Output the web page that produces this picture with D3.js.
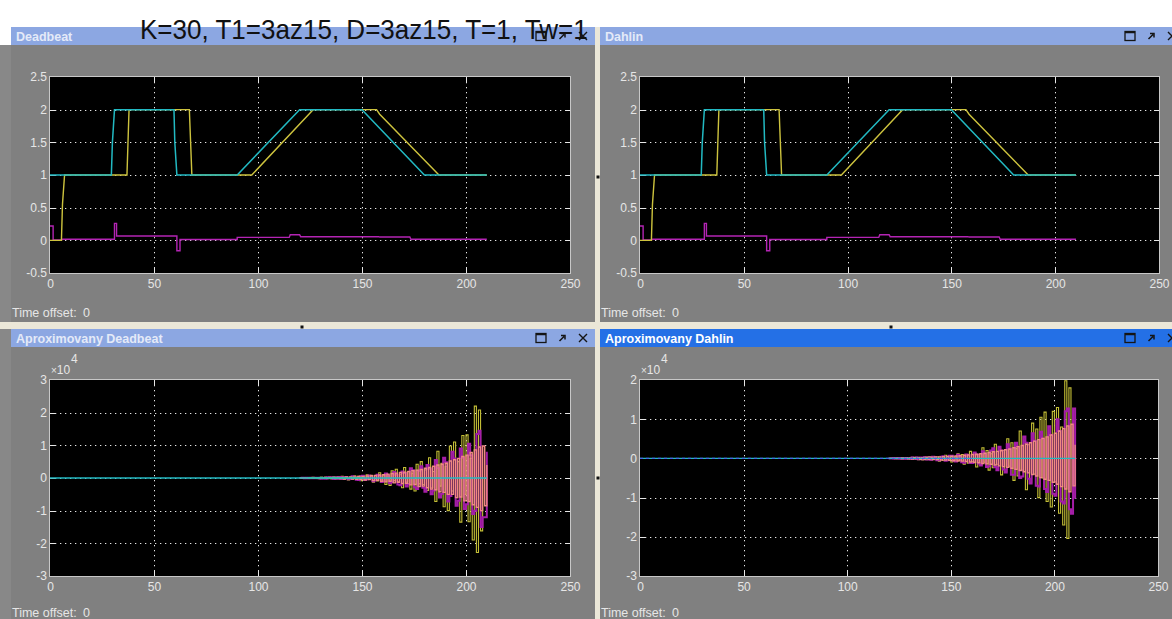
<!DOCTYPE html>
<html><head><meta charset="utf-8">
<script src="https://cdn.jsdelivr.net/npm/d3@7"></script>
<style>html,body{margin:0;padding:0;background:#fff;overflow:hidden}</style>
</head><body><svg id="c" width="1172" height="619"></svg>
<script>
// ---------- labels ----------
const headline = "K=30, T1=3az15, D=3az15, T=1, Tw=1";
const panelTitles = ["Deadbeat", "Dahlin", "Aproximovany Deadbeat", "Aproximovany Dahlin"];
const xTicks = [0, 50, 100, 150, 200, 250];
const xDomain = [0, 250];
const yTicksTop = [-0.5, 0, 0.5, 1, 1.5, 2, 2.5];
const yTickLabelsTop = ["-0.5", "0", "0.5", "1", "1.5", "2", "2.5"];
const yTicksApproxDb = [-3, -2, -1, 0, 1, 2, 3];
const yTicksApproxDh = [-3, -2, -1, 0, 1, 2];
const exponent = "4";
const timeOffsetLabel = "Time offset:";
const timeOffsetValue = "0";

// ---------- closed loop traces: [time, value] ----------
const deadbeatRef = [[0,1],[29.5,1],[30,1.5],[31,2],[59.6,2],[60,1.5],[61,1],[90,1],[120,2],[150,2],[180,1],[210,1]];
const deadbeatOut = [[0,0],[5.5,0],[6,0.55],[7,1],[37,1],[37.5,1.5],[38,2],[67,2],[67.6,1.5],[68.2,1],[97,1],[126.5,2],[157,2],[158.5,1.93],[187,1],[210,1]];
const deadbeatCtl = [[0,0.22],[1.5,0.22],[1.5,0.005],[5.5,0.005],[6,0.016],[31,0.016],[31,0.26],[32,0.26],[32,0.066],[61,0.066],[61,-0.16],[62.5,-0.16],[62.5,0.012],[90,0.012],[90,0.045],[115,0.045],[115.5,0.085],[120,0.085],[120.5,0.056],[158,0.056],[158.5,0.05],[173,0.05],[173.5,0.017],[210,0.017]];
// the Dahlin loop follows the same reference and settles identically in this run
const dahlinRef = [[0,1],[29.5,1],[30,1.5],[31,2],[59.6,2],[60,1.5],[61,1],[90,1],[120,2],[150,2],[180,1],[210,1]];
const dahlinOut = [[0,0],[5.5,0],[6,0.55],[7,1],[37,1],[37.5,1.5],[38,2],[67,2],[67.6,1.5],[68.2,1],[97,1],[126.5,2],[157,2],[158.5,1.93],[187,1],[210,1]];
const dahlinCtl = [[0,0.22],[1.5,0.22],[1.5,0.005],[5.5,0.005],[6,0.016],[31,0.016],[31,0.26],[32,0.26],[32,0.066],[61,0.066],[61,-0.16],[62.5,-0.16],[62.5,0.012],[90,0.012],[90,0.045],[115,0.045],[115.5,0.085],[120,0.085],[120.5,0.056],[158,0.056],[158.5,0.05],[173,0.05],[173.5,0.017],[210,0.017]];

// ---------- approximated controllers: one sample per step (x 10^4) ----------
const approxStart = 120;
const zeroLine = [[0,0],[210,0]];

const apDbYellow = [
  0,0.01,-0.01,0.01,0,-0.01,0.02,-0.01,0.01,-0.02,
  0.02,-0.01,0.03,-0.02,0.02,-0.03,0.03,-0.02,0.04,-0.03,
  0.05,-0.04,0.03,-0.06,0.02,-0.04,0.07,-0.02,0.05,-0.08,
  0.04,-0.06,0.1,-0.03,0.08,-0.13,0.06,-0.09,0.16,-0.05,
  0.1,-0.2,0.06,-0.23,0.22,-0.08,0.27,-0.12,0.1,-0.3,
  0.32,-0.12,0.2,-0.34,0.15,-0.4,0.42,-0.18,0.5,-0.2,
  0.25,-0.38,0.62,-0.3,0.2,-0.72,0.82,-0.25,0.45,-0.88,
  0.35,-1.0,0.98,-0.4,1.1,-0.6,0.5,-1.35,1.3,-0.5,
  1.32,-1.34,0.6,-1.9,2.2,-2.28,2.08,-1.62,0];
const apDbMagenta = [
  0,0.005,-0.005,0.01,-0.01,0.005,-0.01,0.01,-0.005,0.01,
  -0.02,0.01,-0.02,0.02,-0.01,0.02,-0.03,0.02,-0.02,0.03,
  -0.03,0.02,0.03,-0.04,-0.03,0.05,0.03,-0.05,-0.06,0.05,
  0.07,-0.06,-0.04,0.08,0.06,-0.1,-0.07,0.1,0.05,-0.12,
  -0.1,0.14,0.08,-0.16,-0.12,0.18,0.1,-0.2,-0.22,0.2,
  0.15,-0.26,-0.18,0.3,0.24,-0.28,-0.34,0.22,0.36,-0.3,
  -0.42,0.4,0.28,-0.5,-0.38,0.55,0.3,-0.6,-0.48,0.62,
  0.48,-0.72,-0.55,0.8,0.6,-0.85,-0.7,0.9,0.62,-0.95,
  -0.8,1.05,0.7,-1.1,-1.0,1.35,1.45,-1.5,-1.2,-1.2,0.8];
const apDbSalmon = [
  0,0,0.005,-0.005,0,0.005,-0.005,0.005,0,-0.005,
  0.01,-0.01,0.01,-0.01,0.015,-0.01,0.015,-0.015,0.02,-0.02,
  0.02,-0.03,0.03,-0.02,0.035,-0.035,0.03,-0.04,0.045,-0.04,
  0.05,-0.06,0.06,-0.05,0.07,-0.08,0.08,-0.07,0.09,-0.1,
  0.1,-0.12,0.12,-0.1,0.14,-0.15,0.15,-0.13,0.17,-0.17,
  0.18,-0.16,0.2,-0.21,0.22,-0.2,0.24,-0.26,0.26,-0.25,
  0.3,-0.3,0.32,-0.34,0.36,-0.36,0.4,-0.42,0.42,-0.44,
  0.45,-0.5,0.52,-0.5,0.56,-0.6,0.6,-0.58,0.66,-0.7,
  0.7,-0.72,0.78,-0.82,0.86,-0.9,0.95,-1.0,0.98,-0.85,0.4];
const apDbGreenStart = 124;
const apDbGreen = [0.01,-0.005,0.015,0,-0.01,0.01,0.02,-0.01,0,0.01,-0.015,0.01,0.02,-0.01,0.005,0.01,-0.01,0.015,0,-0.01,0.01,0.02,-0.015,0.01,0,0.01,-0.01];

const apDhYellow = [
  0,0.01,-0.01,0.02,-0.01,0.01,-0.02,0.02,-0.01,0.02,
  -0.02,0.03,-0.02,0.03,-0.03,0.02,-0.04,0.04,-0.03,0.05,
  -0.04,0.05,-0.02,0.04,-0.07,0.03,-0.05,0.08,-0.03,0.06,
  -0.09,0.04,-0.08,0.12,-0.05,0.1,-0.15,0.06,-0.12,0.18,
  -0.08,0.14,-0.22,0.1,-0.16,0.27,-0.1,0.2,-0.3,0.12,
  -0.24,0.36,-0.15,0.28,-0.42,0.2,-0.34,0.5,-0.2,0.4,
  -0.56,0.25,-0.45,0.7,-0.3,0.55,-0.8,0.35,-0.62,0.9,
  -0.4,0.75,-1.0,1.05,-0.5,1.18,-1.1,0.6,-1.24,1.2,
  -0.6,1.3,-1.4,0.8,-1.7,1.98,-2.04,1.8,0];
const apDhMagenta = [
  0,0.005,-0.005,0.01,-0.005,0.01,-0.01,0.005,-0.01,0.01,
  -0.01,0.02,-0.015,0.02,-0.02,0.025,-0.02,0.03,-0.03,0.025,
  -0.035,0.04,0.03,-0.045,-0.05,0.04,0.055,-0.06,-0.05,0.07,
  0.07,-0.06,-0.08,0.09,0.05,-0.1,-0.11,0.1,0.08,-0.12,
  -0.12,0.15,0.1,-0.13,-0.18,0.18,0.12,-0.22,-0.2,0.2,
  0.26,-0.22,-0.3,0.3,0.2,-0.28,-0.36,0.36,0.25,-0.42,
  -0.42,0.4,0.3,-0.5,-0.46,0.56,0.4,-0.52,-0.64,0.64,
  0.45,-0.7,-0.72,0.68,0.5,-0.78,-0.86,0.82,0.6,-0.9,
  -0.95,1.0,0.7,-1.1,-1.15,1.2,1.27,-1.3,-1.41,1.27,-1.03];
const apDhSalmon = [
  0,0,0.005,-0.005,0.005,-0.005,0.01,-0.005,0.01,-0.01,
  0.01,-0.015,0.015,-0.01,0.02,-0.02,0.02,-0.025,0.025,-0.02,
  0.03,-0.03,0.035,-0.03,0.04,-0.04,0.045,-0.045,0.05,-0.05,
  0.055,-0.06,0.06,-0.065,0.07,-0.07,0.08,-0.08,0.09,-0.09,
  0.1,-0.1,0.11,-0.11,0.12,-0.13,0.13,-0.14,0.15,-0.15,
  0.17,-0.17,0.18,-0.19,0.2,-0.21,0.22,-0.23,0.24,-0.25,
  0.27,-0.28,0.3,-0.31,0.33,-0.34,0.36,-0.37,0.4,-0.41,
  0.44,-0.45,0.48,-0.49,0.51,-0.53,0.55,-0.56,0.6,-0.61,
  0.64,-0.66,0.7,-0.72,0.76,-0.78,0.83,-0.85,0.87,-0.7,0.35];
const apDhBlueZero = [[0,0],[160,0]];

// ---------- colours ----------
const C = {
  cyan: "#22b9c2", yellow: "#cdc33e", purple: "#b424b4",
  oscYellow: "#c4bf36", oscMagenta: "#a51ea8", salmon: "#f08a82",
  green: "#5ccf5c", blue: "#4a62e8",
  panel: "#808080", bar: "#8ca7e2", barActive: "#2470e6",
  splitter: "#ebe7d8", label: "#e6e6e6"
};

const svg = d3.select("#c");
const FONT = "'Liberation Sans', Arial, sans-serif";

svg.append("rect").attr("width", 1172).attr("height", 619).attr("fill", "#fff");
svg.append("rect").attr("x", 0).attr("y", 45).attr("width", 11).attr("height", 574).attr("fill", "#888");

const sampled = (vals, t0) => vals.map((v, i) => [t0 + i, v]);

function drawScope(p) {
  const g = svg.append("g");
  // window body + caption bar
  g.append("rect").attr("x", p.left).attr("y", p.top).attr("width", p.right - p.left)
    .attr("height", p.bottom - p.top).attr("fill", C.panel);
  g.append("rect").attr("x", p.left).attr("y", p.top).attr("width", p.right - p.left)
    .attr("height", 18).attr("fill", p.active ? C.barActive : C.bar);
  g.append("text").attr("x", p.left + 5).attr("y", p.top + 13.5).text(p.title)
    .attr("font-family", FONT).attr("font-weight", "bold").attr("font-size", 12.5)
    .attr("fill", p.active ? "#ffffff" : "#e4eaf8");

  // caption buttons
  const cy = p.top + 9, ic = "#151515";
  const sq = p.iconRight - 54, ar = p.iconRight - 33, cx = p.iconRight - 12;
  g.append("rect").attr("x", sq - 5).attr("y", cy - 4.5).attr("width", 10).attr("height", 9)
    .attr("fill", "none").attr("stroke", ic).attr("stroke-width", 1.3);
  g.append("line").attr("x1", sq - 5).attr("x2", sq + 5).attr("y1", cy - 3.5).attr("y2", cy - 3.5)
    .attr("stroke", ic).attr("stroke-width", 1.5);
  g.append("path").attr("d", `M${ar - 2.5},${cy + 3} L${ar + 2},${cy - 1.5} M${ar - 1},${cy - 2.5} L${ar + 3},${cy - 2.5} L${ar + 3},${cy + 1.5}`)
    .attr("fill", "none").attr("stroke", ic).attr("stroke-width", 1.5);
  g.append("path").attr("d", `M${cx - 4},${cy - 4} L${cx + 4},${cy + 4} M${cx + 4},${cy - 4} L${cx - 4},${cy + 4}`)
    .attr("stroke", ic).attr("stroke-width", 1.4);

  // axes
  const a = p.axes;
  const x = d3.scaleLinear().domain(xDomain).range([a.x0, a.x1]);
  const y = d3.scaleLinear().domain(p.yDomain).range([a.y1, a.y0]);
  g.append("rect").attr("x", a.x0).attr("y", a.y0).attr("width", a.x1 - a.x0)
    .attr("height", a.y1 - a.y0).attr("fill", "#000");

  const grid = g.append("g").attr("stroke", "#e6e6e6").attr("stroke-width", 1);
  xTicks.filter(t => t > xDomain[0] && t < xDomain[1]).forEach(t => {
    const px = Math.round(x(t)) + 0.5;
    grid.append("line").attr("x1", px).attr("x2", px).attr("y1", a.y0).attr("y2", a.y1)
      .attr("stroke-dasharray", "1.3,3.7");
    grid.append("line").attr("x1", px).attr("x2", px).attr("y1", a.y0).attr("y2", a.y0 + 5);
    grid.append("line").attr("x1", px).attr("x2", px).attr("y1", a.y1 - 5).attr("y2", a.y1);
  });
  p.yTicks.filter(t => t > p.yDomain[0] && t < p.yDomain[1]).forEach(t => {
    const py = Math.round(y(t)) + 0.5;
    grid.append("line").attr("x1", a.x0).attr("x2", a.x1).attr("y1", py).attr("y2", py)
      .attr("stroke-dasharray", "1.3,3.7");
    grid.append("line").attr("x1", a.x0).attr("x2", a.x0 + 5).attr("y1", py).attr("y2", py);
    grid.append("line").attr("x1", a.x1 - 5).attr("x2", a.x1).attr("y1", py).attr("y2", py);
  });
  g.append("rect").attr("x", a.x0 - 0.5).attr("y", a.y0 - 0.5).attr("width", a.x1 - a.x0 + 1)
    .attr("height", a.y1 - a.y0 + 1).attr("fill", "none").attr("stroke", "#c8c8c8");

  // traces
  const clipId = "clip" + p.id;
  svg.append("clipPath").attr("id", clipId).append("rect")
    .attr("x", a.x0).attr("y", a.y0).attr("width", a.x1 - a.x0).attr("height", a.y1 - a.y0);
  const tg = g.append("g").attr("clip-path", `url(#${clipId})`);
  p.series.forEach(s => {
    const line = d3.line().x(d => x(d[0])).y(d => y(d[1]))
      .curve(s.step ? d3.curveStepAfter : d3.curveLinear);
    tg.append("path").attr("d", line(s.data)).attr("fill", "none")
      .attr("stroke", s.color).attr("stroke-width", s.width || 1.3)
      .attr("stroke-dasharray", s.dash || null);
  });

  // tick labels
  const xa = g.append("g").attr("transform", `translate(0,${a.y1})`)
    .call(d3.axisBottom(x).tickValues(xTicks).tickSize(0).tickPadding(6).tickFormat(d3.format("d")));
  const ya = g.append("g").attr("transform", `translate(${a.x0},0)`)
    .call(d3.axisLeft(y).tickValues(p.yTicks).tickSize(0).tickPadding(3)
      .tickFormat((d, i) => p.yLabels[i]));
  [xa, ya].forEach(ax => {
    ax.select(".domain").remove();
    ax.selectAll("text").attr("fill", C.label).attr("font-family", FONT).attr("font-size", 12);
  });

  if (p.exp) {
    g.append("text").attr("x", a.x0 + 1).attr("y", a.y0 - 6.5).attr("font-family", FONT)
      .attr("font-size", 12).attr("fill", C.label)
      .call(t => { t.append("tspan").attr("font-size", 10).text("\u00d7"); t.append("tspan").text("10"); });
    g.append("text").attr("x", a.x0 + 21).attr("y", a.y0 - 17.5).attr("font-family", FONT)
      .attr("font-size", 12).attr("fill", C.label).text(exponent);
  }

  g.append("text").attr("x", p.left + 1).attr("y", p.offsetY).attr("font-family", FONT)
    .attr("font-size", 12.5).attr("fill", C.label).text(timeOffsetLabel);
  g.append("text").attr("x", p.left + 72).attr("y", p.offsetY).attr("font-family", FONT)
    .attr("font-size", 12.5).attr("fill", C.label).text(timeOffsetValue);
}

const topSeries = (ref, out, ctl) => [
  { data: ctl, color: C.purple, width: 1.4 },
  { data: out, color: C.yellow, width: 1.4 },
  { data: ref, color: C.cyan, width: 1.5 }
];
// yellow sits underneath, the magenta envelope and its salmon core on top
const approxSeries = (yel, mag, sal, extra) => [
  { data: sampled(yel, approxStart), color: C.oscYellow, step: true, width: 1.1 },
  { data: sampled(mag, approxStart), color: C.oscMagenta, step: true, width: 2 },
  { data: sampled(sal, approxStart), color: C.salmon, step: true, width: 1.4 },
  ...extra,
  { data: zeroLine, color: C.cyan, width: 1.3 }
];

const panels = [
  { id: 0, title: panelTitles[0], left: 11, right: 595, iconRight: 595, top: 27, bottom: 322,
    axes: { x0: 50, x1: 570, y0: 77, y1: 273 }, yDomain: [-0.5, 2.5],
    yTicks: yTicksTop, yLabels: yTickLabelsTop, offsetY: 317,
    series: topSeries(deadbeatRef, deadbeatOut, deadbeatCtl) },
  { id: 1, title: panelTitles[1], left: 600, right: 1172, iconRight: 1184, top: 27, bottom: 322,
    axes: { x0: 640, x1: 1159, y0: 77, y1: 273 }, yDomain: [-0.5, 2.5],
    yTicks: yTicksTop, yLabels: yTickLabelsTop, offsetY: 317,
    series: topSeries(dahlinRef, dahlinOut, dahlinCtl) },
  { id: 2, title: panelTitles[2], left: 11, right: 595, iconRight: 595, top: 329, bottom: 619,
    axes: { x0: 50, x1: 570, y0: 380, y1: 576 }, yDomain: [-3, 3], exp: true,
    yTicks: yTicksApproxDb, yLabels: yTicksApproxDb.map(String), offsetY: 617,
    series: approxSeries(apDbYellow, apDbMagenta, apDbSalmon,
      [{ data: sampled(apDbGreen, apDbGreenStart), color: C.green, step: true, width: 1.2 }]) },
  { id: 3, title: panelTitles[3], left: 600, right: 1172, iconRight: 1184, top: 329, bottom: 619, active: true,
    axes: { x0: 640, x1: 1158, y0: 380, y1: 576 }, yDomain: [-3, 2], exp: true,
    yTicks: yTicksApproxDh, yLabels: yTicksApproxDh.map(String), offsetY: 617,
    series: approxSeries(apDhYellow, apDhMagenta, apDhSalmon, []).concat(
      [{ data: apDhBlueZero, color: C.blue, width: 1.3, dash: "3,3" }]) }
];

// splitters between the four scope windows
svg.append("rect").attr("x", 595).attr("y", 27).attr("width", 5).attr("height", 592).attr("fill", C.splitter);
svg.append("rect").attr("x", 0).attr("y", 322).attr("width", 1172).attr("height", 7).attr("fill", C.splitter);

panels.forEach(drawScope);

// splitter grips
[[598, 177], [302, 327], [891, 327], [598, 478]].forEach(([gx, gy]) =>
  svg.append("rect").attr("x", gx - 1.5).attr("y", gy - 1.5).attr("width", 3).attr("height", 3).attr("fill", "#111"));

// run parameters, squeezed horizontally to span 140..588
const head = svg.append("text").attr("font-family", FONT).attr("font-size", 28)
  .attr("fill", "#111").text(headline);
const natural = head.node().getComputedTextLength();
head.attr("transform", `translate(140,39) scale(${448 / natural},1)`);
</script>
</body></html>
